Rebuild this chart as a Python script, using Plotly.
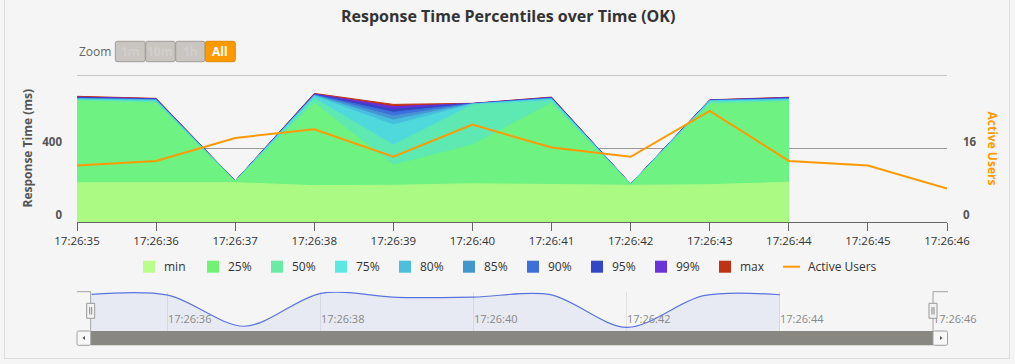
import plotly.graph_objects as go

# ---------------- data ----------------
pct_times = ["17:26:35", "17:26:36", "17:26:37", "17:26:38", "17:26:39",
             "17:26:40", "17:26:41", "17:26:42", "17:26:43", "17:26:44"]
user_times = pct_times + ["17:26:45", "17:26:46"]
tick_labels = user_times

series_names = ["min", "25%", "50%", "75%", "80%", "85%", "90%", "95%", "99%", "max"]
rt_min = [214, 215, 214, 198, 200, 208, 205, 200, 203, 216]
rt_p25 = [660, 648, 220, 649, 310, 419, 646, 203, 642, 655]
rt_p50 = [664, 655, 221, 673, 419, 637, 660, 204, 652, 660]
rt_p75 = [668, 660, 222, 685, 528, 641, 668, 205, 658, 665]
rt_p80 = [670, 663, 222, 688, 555, 642, 670, 205, 660, 668]
rt_p85 = [672, 665, 222, 690, 577, 643, 672, 206, 661, 670]
rt_p90 = [674, 667, 223, 692, 597, 644, 674, 206, 662, 672]
rt_p95 = [677, 669, 223, 694, 613, 645, 676, 206, 663, 675]
rt_p99 = [680, 671, 223, 697, 628, 645, 678, 207, 664, 677]
rt_max = [684, 673, 224, 700, 640, 646, 680, 207, 665, 679]
active_users = [12.3, 13.3, 18.3, 20.2, 14.2, 21.2, 16.2, 14.2, 24.2, 13.3, 12.3, 7.3]

series_values = [rt_min, rt_p25, rt_p50, rt_p75, rt_p80, rt_p85, rt_p90, rt_p95, rt_p99, rt_max]
fill_colors = ["#abfa84", "#6ef282", "#5ee8b2", "#4fd9dd", "#48bede",
               "#4596d2", "#3f6fdc", "#3344c4", "#6a2fd8", "#c0300f"]
legend_colors = ["#b9fe8a", "#72f272", "#69eba6", "#5ce8e2", "#4dbfdc",
                 "#4396cd", "#3e6ed8", "#3346c4", "#6a32d8", "#bf3214"]
users_color = "#ff9900"

DAY = "2024-01-01 "
px_times = [DAY + t for t in pct_times]
ux_times = [DAY + t for t in user_times]

# ---------------- geometry helpers (pixels -> paper) ----------------
FW, FH = 1015, 364
L, R, T, B = 77, 947, 75, 331
W, H = R - L, B - T


def px(x):
    return (x - L) / W


def py(y):
    return (B - y) / H


fig = go.Figure()

# percentile areas: largest first so smaller ones are drawn on top
for name, vals, col in reversed(list(zip(series_names, series_values, fill_colors))):
    fig.add_trace(go.Scatter(
        x=px_times, y=vals, name=name, mode="lines",
        line=dict(color=col, width=1), fill="tozeroy", fillcolor=col,
        showlegend=False, xaxis="x", yaxis="y"))

fig.add_trace(go.Scatter(
    x=ux_times, y=active_users, name="Active Users", mode="lines",
    line=dict(color=users_color, width=2), showlegend=False,
    xaxis="x", yaxis="y2"))

# navigator series (max)
fig.add_trace(go.Scatter(
    x=px_times, y=rt_max, mode="lines", line=dict(color="#5a74dc", width=1.2, shape="spline", smoothing=0.9),
    fill="tozeroy", fillcolor="rgba(80,110,220,0.08)", showlegend=False,
    xaxis="x2", yaxis="y3", hoverinfo="skip"))

main_dom = [py(222), 1]

fig.update_layout(
    width=FW, height=FH,
    margin=dict(l=L, r=FW - R, t=T, b=FH - B, pad=0),
    paper_bgcolor="#f5f5f5", plot_bgcolor="rgba(0,0,0,0)",
    font=dict(family="Open Sans", size=11, color="#333333"),
    showlegend=False,
    xaxis=dict(
        type="date", range=[DAY + user_times[0], DAY + user_times[-1]],
        tickvals=ux_times, ticktext=tick_labels, anchor="y",
        showgrid=False, zeroline=False, showline=True, linecolor="#666666", linewidth=1,
        ticks="outside", ticklen=8, tickcolor="#666666",
        tickfont=dict(size=11.5, color="#333333"), domain=[0, 1]),
    yaxis=dict(
        range=[0, 800], domain=main_dom, tickvals=[0, 400, 800], ticktext=["0", "400", ""],
        showgrid=True, gridcolor="#999999", gridwidth=1, zeroline=False,
        showline=False, ticks="", ticklabelstandoff=14, ticklabelshift=-7,
        tickfont=dict(size=11.5, color="#555555", weight="bold")),
    yaxis2=dict(
        range=[0, 32], domain=main_dom, overlaying="y", side="right", anchor="x",
        tickvals=[0, 16, 32], ticktext=["0", "16", ""], showgrid=False, zeroline=False,
        showline=False, ticks="", ticklabelstandoff=15, ticklabelshift=-7,
        tickfont=dict(size=11.5, color="#555555", weight="bold")),
    xaxis2=dict(
        type="date", domain=[px(91.4), px(933)], anchor="y3",
        range=[DAY + user_times[0], DAY + user_times[-1]],
        tickvals=ux_times[1::2], ticktext=tick_labels[1::2],
        ticklabelposition="inside right", ticklabeloverflow="allow",
        showgrid=True, gridcolor="#e2e2e2", zeroline=False, showline=False, ticks="",
        tickfont=dict(size=11, color="#888888")),
    yaxis3=dict(
        domain=[0, py(291.7)], anchor="x2", range=[155, 723],
        showgrid=False, zeroline=False, showticklabels=False, ticks=""),
)

shapes = []
ann = []

# top grid line of the response-time axis (800 ms)
shapes.append(dict(type="line", xref="paper", yref="y", x0=0, x1=1, y0=800, y1=800,
                   line=dict(color="#999999", width=1), layer="below"))

# title
ann.append(dict(text="<b>Response Time Percentiles over Time (OK)</b>", x=px(508), y=py(16),
                xref="paper", yref="paper", showarrow=False, xanchor="center", yanchor="middle",
                font=dict(size=16, color="#333333")))

# zoom buttons
ann.append(dict(text="Zoom", x=px(77), y=py(51.5), xref="paper", yref="paper", showarrow=False,
                xanchor="left", yanchor="middle", font=dict(size=12, color="#666666")))


def rrect(x0, y0, x1, y1, r=2):
    X0, X1 = px(x0), px(x1)
    Y0, Y1 = py(y0), py(y1)
    rx, ry = r / W, r / H
    return (f"M {X0+rx},{Y0} L {X1-rx},{Y0} Q {X1},{Y0} {X1},{Y0-ry} L {X1},{Y1+ry} "
            f"Q {X1},{Y1} {X1-rx},{Y1} L {X0+rx},{Y1} Q {X0},{Y1} {X0},{Y1+ry} "
            f"L {X0},{Y0-ry} Q {X0},{Y0} {X0+rx},{Y0} Z")


btns = [("1m", 115.3, 145.2), ("10m", 145.7, 175.2), ("1h", 175.7, 204.9), ("All", 205.3, 235.3)]
for lab, x0, x1 in btns:
    sel = lab == "All"
    shapes.append(dict(type="path", path=rrect(x0, 41.3, x1, 61.7), xref="paper", yref="paper",
                       fillcolor="#ff9900" if sel else "#c9c5c1",
                       line=dict(color="#e08a00" if sel else "#a19c98", width=1)))
    ann.append(dict(text=f"<b>{lab}</b>", x=px((x0 + x1) / 2), y=py(51.2), xref="paper", yref="paper",
                    showarrow=False, xanchor="center", yanchor="middle",
                    font=dict(size=12, color="#ffffff" if sel else "#d3cfcb")))

# axis titles
ann.append(dict(text="<b>Response Time (ms)</b>", x=px(27), y=py(148.5), xref="paper", yref="paper",
                showarrow=False, textangle=-90, xanchor="center", yanchor="middle",
                font=dict(size=12, color="#555555")))
ann.append(dict(text="<b>Active Users</b>", x=px(992), y=py(148.5), xref="paper", yref="paper",
                showarrow=False, textangle=90, xanchor="center", yanchor="middle",
                font=dict(size=12, color=users_color)))

# legend (manual)
LY = 266.7
for i, (name, col) in enumerate(zip(series_names, legend_colors)):
    x0 = 143 + 64 * i
    shapes.append(dict(type="rect", xref="paper", yref="paper", x0=px(x0), x1=px(x0 + 12),
                       y0=py(LY - 6), y1=py(LY + 6), fillcolor=col, line=dict(width=0)))
    ann.append(dict(text=name, x=px(x0 + 19), y=py(LY), xref="paper", yref="paper", showarrow=False,
                    xanchor="left", yanchor="middle", font=dict(size=12, color="#333333")))
xl = 143 + 64 * 10
shapes.append(dict(type="line", xref="paper", yref="paper", x0=px(xl), x1=px(xl + 17),
                   y0=py(LY), y1=py(LY), line=dict(color=users_color, width=2)))
ann.append(dict(text="Active Users", x=px(xl + 23), y=py(LY), xref="paper", yref="paper",
                showarrow=False, xanchor="left", yanchor="middle", font=dict(size=12, color="#333333")))

# navigator outline
oc = "#a0a0a0"
for (x0, y0, x1, y1) in [(77, 291.7, 90.7, 291.7), (90.7, 291.7, 90.7, 331),
                         (933, 291.7, 933, 331), (933, 291.7, 948, 291.7)]:
    shapes.append(dict(type="line", xref="paper", yref="paper", x0=px(x0), x1=px(x1),
                       y0=py(y0), y1=py(y1), line=dict(color=oc, width=1)))

# scrollbar
shapes.append(dict(type="rect", xref="paper", yref="paper", x0=px(90.7), x1=px(933),
                   y0=py(331), y1=py(345.3), fillcolor="#888782", line=dict(width=0)))
for (x0, x1) in [(77, 90.7), (933, 947.5)]:
    shapes.append(dict(type="path", path=rrect(x0, 331, x1, 345.3, 1.5), xref="paper", yref="paper",
                       fillcolor="#f7f7f7", line=dict(color="#a0a0a0", width=1)))
# arrows
shapes.append(dict(type="path", xref="paper", yref="paper",
                   path=f"M {px(82.5)},{py(338)} L {px(85)},{py(336)} L {px(85)},{py(340)} Z",
                   fillcolor="#555555", line=dict(width=0)))
shapes.append(dict(type="path", xref="paper", yref="paper",
                   path=f"M {px(942.5)},{py(338)} L {px(940)},{py(336)} L {px(940)},{py(340)} Z",
                   fillcolor="#555555", line=dict(width=0)))

# handles
for cx in (90.7, 933):
    shapes.append(dict(type="rect", xref="paper", yref="paper", x0=px(cx - 4), x1=px(cx + 4),
                       y0=py(303.3), y1=py(318.3), fillcolor="#f2f2f2", line=dict(color="#999999", width=1)))
    for dx in (-1, 1):
        shapes.append(dict(type="line", xref="paper", yref="paper", x0=px(cx + dx), x1=px(cx + dx),
                           y0=py(307), y1=py(314.5), line=dict(color="#888888", width=1)))

# container border
shapes.append(dict(type="rect", xref="paper", yref="paper", x0=px(4.5), x1=px(1009.5),
                   y0=py(-2), y1=py(358.5), fillcolor="rgba(0,0,0,0)", line=dict(color="#dddddd", width=1),
                   layer="below"))

fig.update_layout(shapes=shapes, annotations=ann)

fig.write_html("out.html", config={"displayModeBar": False},
               post_script="document.body.style.margin='0';document.body.style.overflow='hidden';")
